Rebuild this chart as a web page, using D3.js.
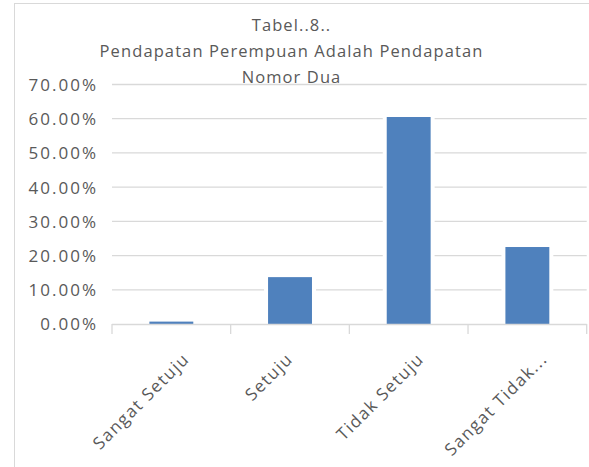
<!DOCTYPE html>
<html>
<head>
<meta charset="utf-8">
<script src="https://cdn.jsdelivr.net/npm/d3@7"></script>
<style>
  body { margin: 0; background: #fff; }
  text { font-family: "Open Sans", sans-serif; fill: #595959; }
</style>
</head>
<body>
<svg width="589" height="467"></svg>
<script>
// data
const categories = ["Sangat Setuju", "Setuju", "Tidak Setuju", "Sangat Tidak Setuju"];
const tickLabels = ["Sangat Setuju", "Setuju", "Tidak Setuju", "Sangat Tidak..."];
const values = [0.007, 0.137, 0.605, 0.225];
const yTicks = [0, 0.1, 0.2, 0.3, 0.4, 0.5, 0.6, 0.7];
const titleLines = ["Tabel..8..", "Pendapatan Perempuan Adalah Pendapatan", "Nomor Dua"];

let svg = d3.select("svg"),
  plotLeft = 112,
  plotRight = 586.7,
  plotTop = 84.5,
  plotBottom = 324;

// chart frame
svg.append("rect")
  .attr("x", 14.5)
  .attr("y", 3.5)
  .attr("width", 600)
  .attr("height", 500)
  .attr("fill", "#fff")
  .attr("stroke", "#d9d9d9");

let xScale = d3.scaleBand().domain(categories).range([plotLeft, plotRight])
    .paddingInner(0.63).paddingOuter(0.315),
  yScale = d3.scaleLinear().domain([0, 0.7]).range([plotBottom, plotTop]);

// title
svg.append("g")
  .selectAll("text")
  .data(titleLines)
  .enter()
  .append("text")
  .attr("x", 291.5)
  .attr("y", (d, i) => 30.5 + i * 26)
  .attr("text-anchor", "middle")
  .attr("font-size", "16.5px")
  .attr("letter-spacing", "1.1px")
  .text(d => d);

// gridlines
svg.append("g")
  .selectAll("line")
  .data(yTicks.slice(1))
  .enter()
  .append("line")
  .attr("x1", plotLeft)
  .attr("x2", plotRight)
  .attr("y1", d => yScale(d))
  .attr("y2", d => yScale(d))
  .attr("stroke", "#d9d9d9")
  .attr("stroke-width", 1.3);

// y labels
svg.append("g")
  .call(d3.axisLeft(yScale).tickValues(yTicks).tickSize(0).tickPadding(0)
    .tickFormat(d3.format(".2%")))
  .attr("transform", "translate(98,0)")
  .call(g => g.select(".domain").remove())
  .selectAll("text")
  .attr("font-size", "17px")
  .attr("font-family", "Open Sans")
  .attr("fill", "#595959")
  .attr("letter-spacing", "2px")
  .attr("dy", "0.35em");

// white halo that cuts the gridlines beside each bar
svg.append("g")
  .selectAll("rect")
  .data(values)
  .enter()
  .append("rect")
  .attr("x", (d, i) => xScale(categories[i]) - 4)
  .attr("width", xScale.bandwidth() + 8)
  .attr("y", d => yScale(d))
  .attr("height", d => plotBottom - 1 - yScale(d))
  .attr("fill", "#fff");

svg.append("g")
  .selectAll(".bar")
  .data(values)
  .enter()
  .append("rect")
  .attr("class", "bar")
  .attr("x", (d, i) => xScale(categories[i]))
  .attr("width", xScale.bandwidth())
  .attr("y", d => yScale(d))
  .attr("height", d => plotBottom - yScale(d))
  .attr("fill", "#4f81bd");

// x axis line and ticks at band edges
let step = xScale.step();
let edges = d3.range(categories.length + 1).map(i => plotLeft + i * step);
let xAxis = svg.append("g");
xAxis.append("line")
  .attr("x1", plotLeft)
  .attr("x2", plotRight)
  .attr("y1", plotBottom + 0.5)
  .attr("y2", plotBottom + 0.5)
  .attr("stroke", "#d9d9d9")
  .attr("stroke-width", 1.3);
xAxis.selectAll(".tick")
  .data(edges)
  .enter()
  .append("line")
  .attr("class", "tick")
  .attr("x1", d => d)
  .attr("x2", d => d)
  .attr("y1", plotBottom)
  .attr("y2", plotBottom + 10)
  .attr("stroke", "#d9d9d9")
  .attr("stroke-width", 1.3);

// rotated category labels
xAxis.selectAll(".lbl")
  .data(tickLabels)
  .enter()
  .append("text")
  .attr("class", "lbl")
  .attr("text-anchor", "end")
  .attr("font-size", "17px")
  .attr("letter-spacing", "1.5px")
  .text(d => d)
  .attr("transform", function (d, i) {
    let L = this.getComputedTextLength();
    let cx = xScale(categories[i]) + xScale.bandwidth() / 2;
    let ax = cx - 9 + 0.22 * L;
    return "translate(" + ax + "," + (plotBottom + 36) + ") rotate(-45)";
  });
</script>
</body>
</html>
